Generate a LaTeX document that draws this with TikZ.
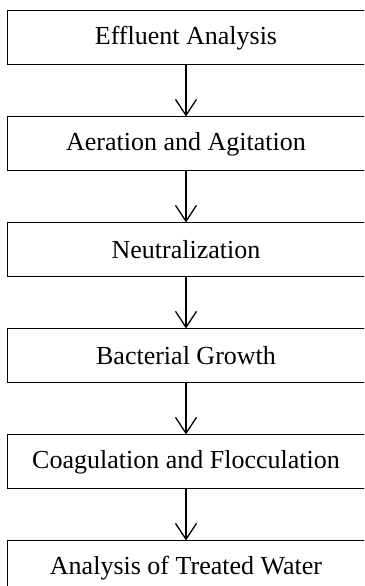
\documentclass[tikz,border=0pt]{standalone}
\usepackage{fontspec}
\setmainfont{Liberation Serif}
\usetikzlibrary{arrows.meta,positioning}

\begin{document}
\begin{tikzpicture}[
    x=1pt, y=1pt,
    node distance=51pt,
    stage/.style={rectangle, draw, line width=1pt, minimum width=358pt, minimum height=54pt, inner sep=0pt, text centered, font=\fontsize{26}{30}\selectfont},
    arrow/.style={-{Straight Barb[length=16pt, width=21pt, line width=1.3pt]}, line width=1.6pt}
]
\useasboundingbox (0,0) rectangle (364,586);
\clip (0,0) rectangle (364,586);

\node[stage] (eff) at (186,548) {Effluent Analysis};
\node[stage, below=of eff] (aer) {Aeration and Agitation};
\node[stage, below=of aer] (neu) {Neutralization};
\node[stage, below=of neu] (bac) {Bacterial Growth};
\node[stage, below=of bac] (coa) {Coagulation and Flocculation};
\node[stage, below=of coa] (ana) {Analysis of Treated Water};

\draw[arrow] (eff) -- (aer);
\draw[arrow] (aer) -- (neu);
\draw[arrow] (neu) -- (bac);
\draw[arrow] (bac) -- (coa);
\draw[arrow] (coa) -- (ana);
\end{tikzpicture}
\end{document}
